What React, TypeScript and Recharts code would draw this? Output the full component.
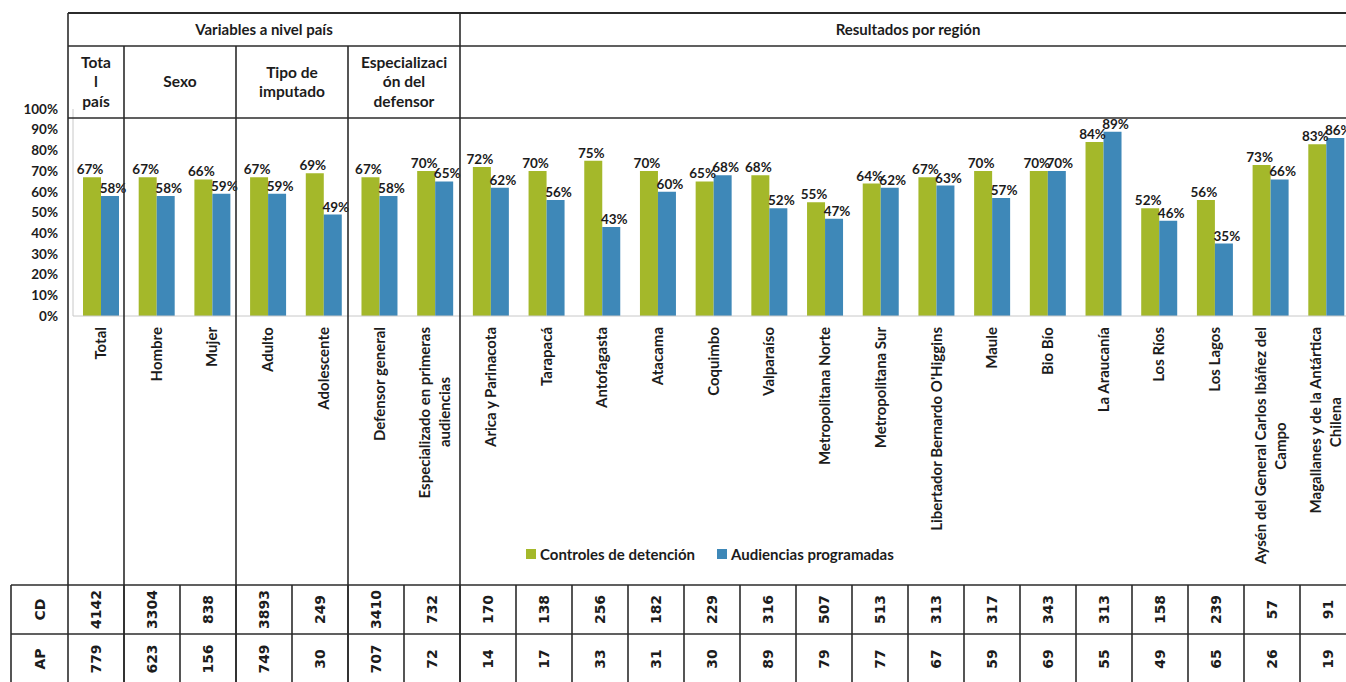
import React from "react";
import { BarChart, Bar, XAxis, YAxis, LabelList, Legend } from "recharts";

const categories = [
  "Total",
  "Hombre",
  "Mujer",
  "Adulto",
  "Adolescente",
  "Defensor general",
  "Especializado en primeras\naudiencias",
  "Arica y Parinacota",
  "Tarapacá",
  "Antofagasta",
  "Atacama",
  "Coquimbo",
  "Valparaíso",
  "Metropolitana Norte",
  "Metropolitana Sur",
  "Libertador Bernardo O'Higgins",
  "Maule",
  "Bio Bío",
  "La Araucanía",
  "Los Ríos",
  "Los Lagos",
  "Aysén del General Carlos Ibáñez del\nCampo",
  "Magallanes y de la Antártica\nChilena",
];

// % por categoría
const controles = [67, 67, 66, 67, 69, 67, 70, 72, 70, 75, 70, 65, 68, 55, 64, 67, 70, 70, 84, 52, 56, 73, 83];
const audiencias = [58, 58, 59, 59, 49, 58, 65, 62, 56, 43, 60, 68, 52, 47, 62, 63, 57, 70, 89, 46, 35, 66, 86];

// tabla inferior (n)
const cdCounts = [4142, 3304, 838, 3893, 249, 3410, 732, 170, 138, 256, 182, 229, 316, 507, 513, 313, 317, 343, 313, 158, 239, 57, 91];
const apCounts = [779, 623, 156, 749, 30, 707, 72, 14, 17, 33, 31, 30, 89, 79, 77, 67, 59, 69, 55, 49, 65, 26, 19];

const yTicks = [0, 10, 20, 30, 40, 50, 60, 70, 80, 90, 100];

// cabecera: grupos de columnas [desde, hasta)
const countryGroups = [
  { lines: ["Tota", "l", "país"], from: 0, to: 1 },
  { lines: ["Sexo"], from: 1, to: 3 },
  { lines: ["Tipo de", "imputado"], from: 3, to: 5 },
  { lines: ["Especializaci", "ón del", "defensor"], from: 5, to: 7 },
];

const GREEN = "#a4b82a";
const BLUE = "#3e88b8";
const INK = "#1c1c1c";
const GRID = "#2b2b2b";
const FONT = "Lato, 'Open Sans', sans-serif";

const W = 1360;
const H = 682;
const COL0 = 68;
const COLW = 56;
const TABLE_TOP = 585;
const TABLE_MID = 634;

const data = categories.map((name, i) => ({
  name,
  cd: controles[i],
  ap: audiencias[i],
}));

function CategoryTick(props: any) {
  const { x, y, payload, index } = props;
  const lines = String(payload.value).split("\n");
  const top = y + 11;
  const len0 = lines[0].length * 6.8;
  const colX = COL0 + COLW * (index + 0.5);
  return (
    <g>
      {lines.map((ln, i) => {
        const lx = x + (i - (lines.length - 1) / 2) * 20;
        const ty = i === 0 ? top : top + len0 / 2;
        return (
          <text
            key={i}
            transform={`translate(${lx}, ${ty}) rotate(-90)`}
            textAnchor={i === 0 ? "end" : "middle"}
            dy="0.35em"
            fill={INK}
            fontSize={15}
            fontWeight={700}
            fontFamily={FONT}
          >
            {ln}
          </text>
        );
      })}
      <text
        transform={`translate(${colX}, ${(TABLE_TOP + TABLE_MID) / 2}) rotate(-90)`}
        textAnchor="middle"
        dy="0.36em"
        fill={INK}
        fontSize={14}
        fontWeight={700}
        fontFamily="'DejaVu Sans', sans-serif"
      >
        {cdCounts[index]}
      </text>
      <text
        transform={`translate(${colX}, ${TABLE_MID + 25}) rotate(-90)`}
        textAnchor="middle"
        dy="0.36em"
        fill={INK}
        fontSize={14}
        fontWeight={700}
        fontFamily="'DejaVu Sans', sans-serif"
      >
        {apCounts[index]}
      </text>
    </g>
  );
}

const legendOrder = ["cd", "ap"];

function LegendContent(props: any) {
  const items = [...(props.payload || [])].sort(
    (a: any, b: any) => legendOrder.indexOf(a.dataKey) - legendOrder.indexOf(b.dataKey)
  );
  return (
    <div style={{ display: "flex", alignItems: "center", fontFamily: FONT, fontSize: 15, fontWeight: 700, color: INK, whiteSpace: "nowrap" }}>
      {items.map((it: any, i: number) => (
        <div key={i} style={{ display: "flex", alignItems: "center", marginRight: 22 }}>
          <span style={{ width: 10, height: 10, background: it.color, marginRight: 4, display: "inline-block" }} />
          <span>{it.value}</span>
        </div>
      ))}
    </div>
  );
}

function TableOverlay() {
  const colX = (i: number) => COL0 + COLW * i;
  const bold = { fontFamily: FONT, fontWeight: 700, fill: INK } as const;
  const tableCols = categories.map((_, i) => colX(i + 1)).filter((x) => x < W);
  return (
    <svg width={W} height={H} style={{ position: "absolute", left: 0, top: 0, pointerEvents: "none" }}>
      <g stroke={GRID} strokeWidth={1.6}>
        <line x1={COL0} y1={13} x2={W} y2={13} strokeWidth={2} />
        <line x1={COL0} y1={46} x2={W} y2={46} />
        <line x1={COL0} y1={118} x2={W} y2={118} />
        <line x1={11} y1={TABLE_TOP} x2={W} y2={TABLE_TOP} />
        <line x1={11} y1={TABLE_MID} x2={W} y2={TABLE_MID} />
        <line x1={11} y1={TABLE_TOP} x2={11} y2={H} />
        <line x1={COL0} y1={13} x2={COL0} y2={H} />
        <line x1={colX(7)} y1={13} x2={colX(7)} y2={H} />
        {countryGroups.slice(1).map((g) => (
          <line key={g.from} x1={colX(g.from)} y1={46} x2={colX(g.from)} y2={H} />
        ))}
        {tableCols.map((x) => (
          <line key={x} x1={x} y1={TABLE_TOP} x2={x} y2={H} />
        ))}
      </g>
      <text x={(colX(0) + colX(7)) / 2} y={30} textAnchor="middle" dy="0.35em" fontSize={15} {...bold}>
        Variables a nivel país
      </text>
      <text x={(colX(7) + colX(23)) / 2} y={30} textAnchor="middle" dy="0.35em" fontSize={15} {...bold}>
        Resultados por región
      </text>
      {countryGroups.map((g) => {
        const cx = (colX(g.from) + colX(g.to)) / 2;
        const y0 = 82 - ((g.lines.length - 1) * 19.5) / 2;
        return g.lines.map((ln, i) => (
          <text key={g.from + "-" + i} x={cx} y={y0 + i * 19.5} textAnchor="middle" dy="0.35em" fontSize={15.5} {...bold}>
            {ln}
          </text>
        ));
      })}
      {[
        { t: "CD", y: (TABLE_TOP + TABLE_MID) / 2 },
        { t: "AP", y: TABLE_MID + 25 },
      ].map((r) => (
        <text
          key={r.t}
          transform={`translate(${(11 + COL0) / 2}, ${r.y}) rotate(-90)`}
          textAnchor="middle"
          dy="0.36em"
          fontSize={14}
          fontWeight={700}
          fill={INK}
          fontFamily="'DejaVu Sans', sans-serif"
        >
          {r.t}
        </text>
      ))}
    </svg>
  );
}

export default function App() {
  const labelFmt = (v: any) => `${v}%`;
  return (
    <div
      style={{
        position: "absolute",
        left: 0,
        top: 0,
        width: 1346,
        height: 682,
        overflow: "hidden",
        background: "#fff",
      }}
    >
      <BarChart
        width={W}
        height={H}
        data={data}
        margin={{ top: 109, right: 6, bottom: 0, left: 0 }}
        barSize={18}
        barGap={0}
      >
        <YAxis
          width={73}
          domain={[0, 100]}
          ticks={yTicks}
          interval={0}
          tickFormatter={(v) => `${v}%`}
          tickSize={0}
          tickMargin={15}
          tickLine={false}
          axisLine={{ stroke: "#c8c8c8" }}
          tick={{ fill: INK, fontSize: 13.5, fontWeight: 700, fontFamily: FONT }}
        />
        <XAxis
          dataKey="name"
          height={H - 316}
          interval={0}
          tickSize={0}
          tickMargin={0}
          tickLine={false}
          axisLine={{ stroke: "#c8c8c8" }}
          tick={(p: any) => <CategoryTick {...p} />}
        />
        <Legend
          layout="horizontal"
          align="center"
          verticalAlign="middle"
          wrapperStyle={{ left: 526, top: 545, width: 440, height: 20 }}
          content={(p: any) => <LegendContent {...p} />}
        />
        <Bar dataKey="cd" name="Controles de detención" fill={GREEN} isAnimationActive={false}>
          <LabelList dataKey="cd" position="top" offset={3} dx={-2} formatter={labelFmt} fill={INK} fontSize={13.5} fontWeight={700} fontFamily={FONT} />
        </Bar>
        <Bar dataKey="ap" name="Audiencias programadas" fill={BLUE} isAnimationActive={false}>
          <LabelList dataKey="ap" position="top" offset={3} dx={3} formatter={labelFmt} fill={INK} fontSize={13.5} fontWeight={700} fontFamily={FONT} />
        </Bar>
      </BarChart>
      <TableOverlay />
    </div>
  );
}
